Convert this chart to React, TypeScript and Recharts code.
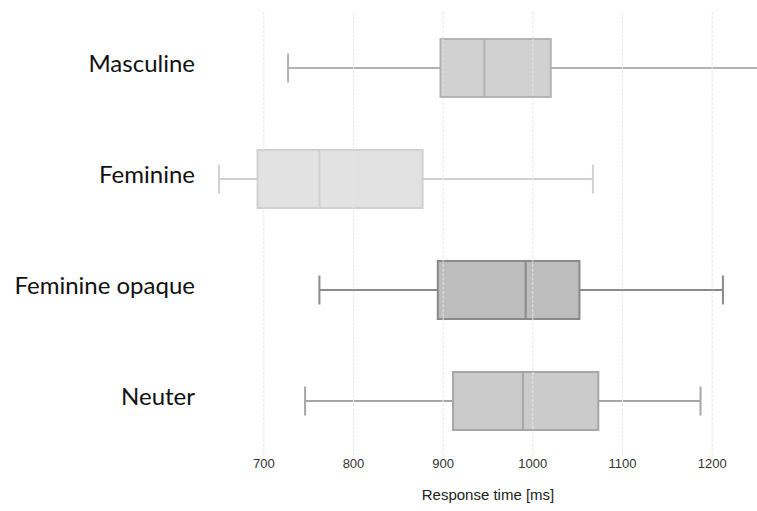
import React from 'react';
import { BarChart, Bar, XAxis, YAxis, ReferenceLine, Label } from 'recharts';

const categories = ['Masculine', 'Feminine', 'Feminine opaque', 'Neuter'];
const whiskerLow = [727, 650, 762, 746];
const q1 = [897, 693, 894, 911];
const median = [946, 762, 992, 989];
const q3 = [1020, 877, 1052, 1073];
const whiskerHigh = [1280, 1067, 1212, 1187];
const xTicks = [700, 800, 900, 1000, 1100, 1200];

const fills = ['#d1d1d1', '#e2e2e2', '#bdbdbd', '#cbcbcb'];
const strokes = ['#b3b3b3', '#d0d0d0', '#8a8a8a', '#a6a6a6'];

const data = categories.map((name, i) => ({
  name,
  low: whiskerLow[i],
  q1: q1[i],
  median: median[i],
  q3: q3[i],
  high: whiskerHigh[i],
  box: [q1[i], q3[i]],
  idx: i,
}));

const BoxShape = (props: any) => {
  const { x, y, width, height, payload } = props;
  if (!payload) return null;
  const px = (v: number) => x + ((v - payload.q1) / (payload.q3 - payload.q1)) * width;
  const cy = y + height / 2;
  const fill = fills[payload.idx];
  const stroke = strokes[payload.idx];
  const capH = height / 2;
  const xl = px(payload.low);
  const xh = px(payload.high);
  const xm = px(payload.median);
  return (
    <g>
      <line x1={xl} x2={x} y1={cy} y2={cy} stroke={stroke} strokeWidth={2} />
      <line x1={x + width} x2={xh} y1={cy} y2={cy} stroke={stroke} strokeWidth={2} />
      <line x1={xl} x2={xl} y1={cy - capH / 2} y2={cy + capH / 2} stroke={stroke} strokeWidth={2} />
      <line x1={xh} x2={xh} y1={cy - capH / 2} y2={cy + capH / 2} stroke={stroke} strokeWidth={2} />
      <rect x={x} y={y} width={width} height={height} fill={fill} stroke={stroke} strokeWidth={2} />
      <line x1={xm} x2={xm} y1={y} y2={y + height} stroke={stroke} strokeWidth={2} />
    </g>
  );
};

const CategoryTick = (props: any) => {
  const { x, y, payload } = props;
  return (
    <text
      x={x}
      y={y}
      dy={4}
      textAnchor="end"
      fontFamily="Lato, sans-serif"
      fontSize={24}
      fill="#111"
    >
      {payload.value}
    </text>
  );
};

export default function App() {
  return (
    <div style={{ position: 'absolute', left: 0, top: 0, width: 757, height: 511, background: '#fff' }}>
      <BarChart
        width={757}
        height={511}
        data={data}
        layout="vertical"
        margin={{ top: 12, right: 0, left: 0, bottom: 0 }}
      >
        {xTicks.map((t) => (
          <ReferenceLine key={t} x={t} stroke="#e6e6e6" strokeDasharray="3 1.5" strokeWidth={1} />
        ))}
        <XAxis
          type="number"
          domain={[650, 1250]}
          ticks={xTicks}
          axisLine={false}
          tickLine={false}
          tickSize={0}
          tickMargin={3}
          height={55}
          tick={{ fontFamily: 'Liberation Sans, Arial, sans-serif', fontSize: 13, fill: '#333' }}
        >
          <Label
            value="Response time [ms]"
            position="insideBottom"
            offset={11}
            style={{ fontFamily: 'Liberation Sans, Arial, sans-serif', fontSize: 15, fill: '#222' }}
          />
        </XAxis>
        <YAxis
          type="category"
          dataKey="name"
          width={219}
          axisLine={false}
          tickLine={false}
          tickSize={0}
          tickMargin={24}
          tick={CategoryTick}
        />
        <Bar dataKey="box" barSize={58} shape={BoxShape} isAnimationActive={false} />
      </BarChart>
    </div>
  );
}
